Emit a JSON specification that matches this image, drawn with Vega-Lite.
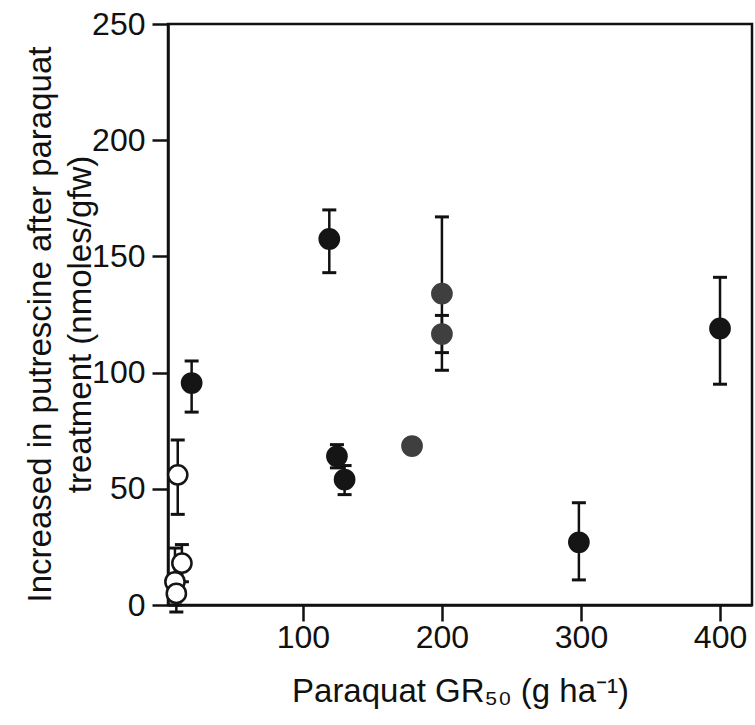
{
  "$schema": "https://vega.github.io/schema/vega-lite/v6.json",
  "width": 584,
  "height": 581,
  "autosize": {"type": "none"},
  "padding": {"left": 168, "top": 24, "right": 3, "bottom": 120},
  "background": "white",
  "config": {
    "font": "Liberation Sans",
    "view": {"stroke": "#111", "strokeWidth": 2.5},
    "axis": {
      "grid": false,
      "domainColor": "#111",
      "domainWidth": 2.5,
      "tickColor": "#111",
      "tickWidth": 2.5,
      "tickSize": 16,
      "labelFont": "Liberation Sans",
      "labelFontSize": 32,
      "labelColor": "#111",
      "titleFont": "Liberation Sans",
      "titleFontSize": 33,
      "titleFontWeight": "normal",
      "titleColor": "#111"
    },
    "axisX": {"labelPadding": 1, "titleY": 96, "titleBaseline": "alphabetic"},
    "axisY": {"labelPadding": 7, "titleX": -118, "titleY": 300, "titleAngle": -90, "titleAlign": "center", "titleBaseline": "alphabetic", "titleLineHeight": 40}
  },
  "data": {
    "values": [
      {"x": 20, "y": 95.5, "lo": 83, "hi": 105, "type": "filled"},
      {"x": 119, "y": 157.5, "lo": 143, "hi": 170, "type": "filled"},
      {"x": 124.5, "y": 64, "lo": 59, "hi": 69, "type": "filled"},
      {"x": 130, "y": 54, "lo": 47.5, "hi": 60, "type": "filled"},
      {"x": 298.5, "y": 27, "lo": 10.8, "hi": 44, "type": "filled"},
      {"x": 400, "y": 119, "lo": 95, "hi": 141, "type": "filled"},
      {"x": 200, "y": 134, "lo": 101, "hi": 167, "type": "gray"},
      {"x": 200, "y": 116.6, "lo": 108.6, "hi": 124.6, "type": "gray"},
      {"x": 178.5, "y": 68.4, "type": "gray"},
      {"x": 10, "y": 56, "lo": 39, "hi": 71, "type": "open"},
      {"x": 13, "y": 18, "lo": 10, "hi": 26, "type": "open"},
      {"x": 8, "y": 10, "lo": 0, "hi": 24.5, "type": "open"},
      {"x": 9, "y": 5, "lo": -3, "hi": 13, "type": "open"}
    ]
  },
  "encoding": {
    "x": {
      "field": "x",
      "type": "quantitative",
      "scale": {"domain": [3, 423], "nice": false},
      "axis": {"values": [100, 200, 300, 400], "title": "Paraquat GR₅₀ (g ha⁻¹)"}
    }
  },
  "layer": [
    {
      "transform": [{"filter": "isValid(datum.lo)"}],
      "mark": {"type": "rule", "color": "#111", "strokeWidth": 2.5},
      "encoding": {
        "y": {"field": "lo", "type": "quantitative", "scale": {"domain": [0, 250]}, "axis": {"values": [0, 50, 100, 150, 200, 250], "title": ["Increased in putrescine after paraquat", "treatment (nmoles/gfw)"]}},
        "y2": {"field": "hi"}
      }
    },
    {
      "transform": [{"filter": "isValid(datum.lo)"}],
      "mark": {"type": "tick", "orient": "horizontal", "color": "#111", "size": 14, "thickness": 3, "opacity": 1},
      "encoding": {
        "y": {"field": "lo", "type": "quantitative", "scale": {"domain": [0, 250]}, "axis": {"values": [0, 50, 100, 150, 200, 250], "title": ["Increased in putrescine after paraquat", "treatment (nmoles/gfw)"]}}
      }
    },
    {
      "transform": [{"filter": "isValid(datum.lo)"}],
      "mark": {"type": "tick", "orient": "horizontal", "color": "#111", "size": 14, "thickness": 3, "opacity": 1},
      "encoding": {
        "y": {"field": "hi", "type": "quantitative", "scale": {"domain": [0, 250]}, "axis": {"values": [0, 50, 100, 150, 200, 250], "title": ["Increased in putrescine after paraquat", "treatment (nmoles/gfw)"]}}
      }
    },
    {
      "mark": {"type": "point", "shape": "circle", "filled": true, "size": 370, "strokeWidth": 2.5, "opacity": 1},
      "encoding": {
        "y": {"field": "y", "type": "quantitative", "scale": {"domain": [0, 250]}, "axis": {"values": [0, 50, 100, 150, 200, 250], "title": ["Increased in putrescine after paraquat", "treatment (nmoles/gfw)"]}},
        "fill": {"field": "type", "type": "nominal", "scale": {"domain": ["filled", "gray", "open"], "range": ["#151515", "#3f3f3f", "white"]}, "legend": null},
        "stroke": {"field": "type", "type": "nominal", "scale": {"domain": ["filled", "gray", "open"], "range": ["#151515", "#3f3f3f", "#151515"]}, "legend": null}
      }
    }
  ]
}
